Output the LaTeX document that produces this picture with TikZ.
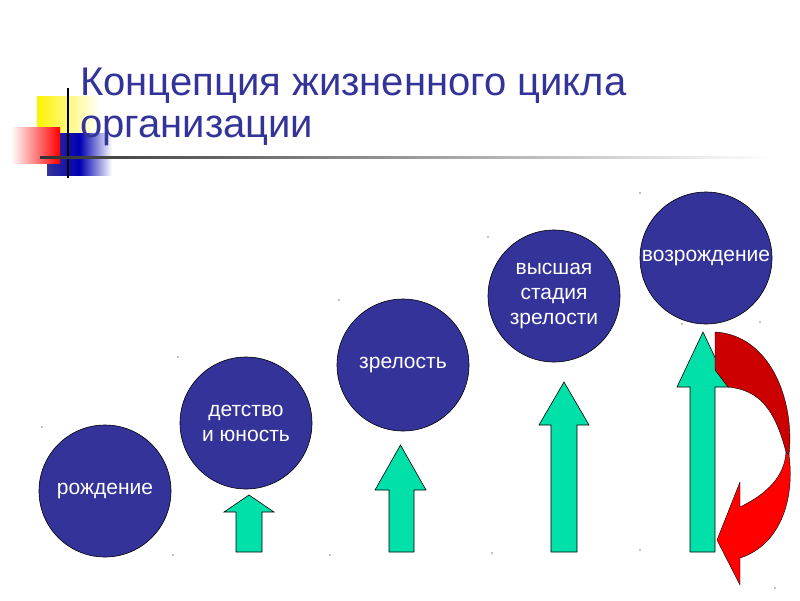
\documentclass[tikz,border=0pt]{standalone}
\usepackage{fontspec}
\setmainfont{Liberation Sans}
\usetikzlibrary{shadings}
\definecolor{navy}{HTML}{333399}
\definecolor{grn}{HTML}{00E0A8}
\definecolor{dred}{HTML}{CC0000}
\begin{document}
\begin{tikzpicture}[x=1pt,y=-1pt,
  stage/.style={circle,fill=navy,draw=black,line width=0.6pt,minimum size=132pt,inner sep=0pt,text=white,font=\fontsize{21}{25}\selectfont,align=center},
  garrow/.style={fill=grn,draw=black,line width=0.6pt}]
\useasboundingbox (0,0) rectangle (800,600);
% decoration
\shade[left color=yellow!90!orange,right color=white] (37,96) rectangle (100,133);
\shade[left color=navy,right color=white,middle color=blue!70!black] (47,133) rectangle (112,175);
\shade[left color=white,right color=red] (11,127) rectangle (60,163);
\draw[line width=1.2pt] (68,88) -- (68,178);
\shade[left color=black!80,right color=white] (40,156) rectangle (770,158.5);
\node[anchor=base west,text=navy,font=\fontsize{40}{44}\selectfont,inner sep=0pt] (title) at (80,95) {Концепция жизненного цикла};
\node[anchor=base west,text=navy,font=\fontsize{40}{44}\selectfont,inner sep=0pt] (title2) at (80,137) {организации};
% stages
\node[stage] (s1) at (105,491) {рождение};
\node[stage] (s2) at (246,423) {детство\\ и юность};
\node[stage] (s3) at (403,365) {зрелость};
\node[stage] (s4) at (554,296) {высшая\\ стадия\\ зрелости};
\node[stage] (s5) at (706,258) {возрождение};
% green arrows
\draw[garrow] (236,552) -- (236,512) -- (224,512) -- (249,495) -- (274,512) -- (262,512) -- (262,552) -- cycle;
\draw[garrow] (389,552) -- (389,490) -- (375,490) -- (400.5,445) -- (426,490) -- (414,490) -- (414,552) -- cycle;
\draw[garrow] (551,552) -- (551,425) -- (539,425) -- (564,382) -- (589,425) -- (577,425) -- (577,552) -- cycle;
\draw[garrow] (690,552) -- (690,387) -- (677,387) -- (703,332) -- (729,387) -- (715,387) -- (715,552) -- cycle;
% red arrow
\draw[fill=dred,draw=black,line width=0.4pt] (715,332) .. controls (770,335) and (795,400) .. (789,455)
  -- (786,452) .. controls (775,410) and (760,390) .. (728,387) -- (715,370) -- cycle;
\draw[fill=red,draw=black,line width=0.4pt] (789,455) .. controls (795,500) and (780,545) .. (740,558)
  -- (740,585) -- (717,540) -- (740,482) -- (740,507) .. controls (775,490) and (785,470) .. (786,452) -- cycle;
% dots
\foreach \p in {(42,427),(178,357),(339,300),(488,237),(640,193),(173,555),(330,555),(492,553),(640,550),(682,324),(775,588),(760,322)}
  \fill[black!50] \p circle (0.8);
\end{tikzpicture}
\end{document}
